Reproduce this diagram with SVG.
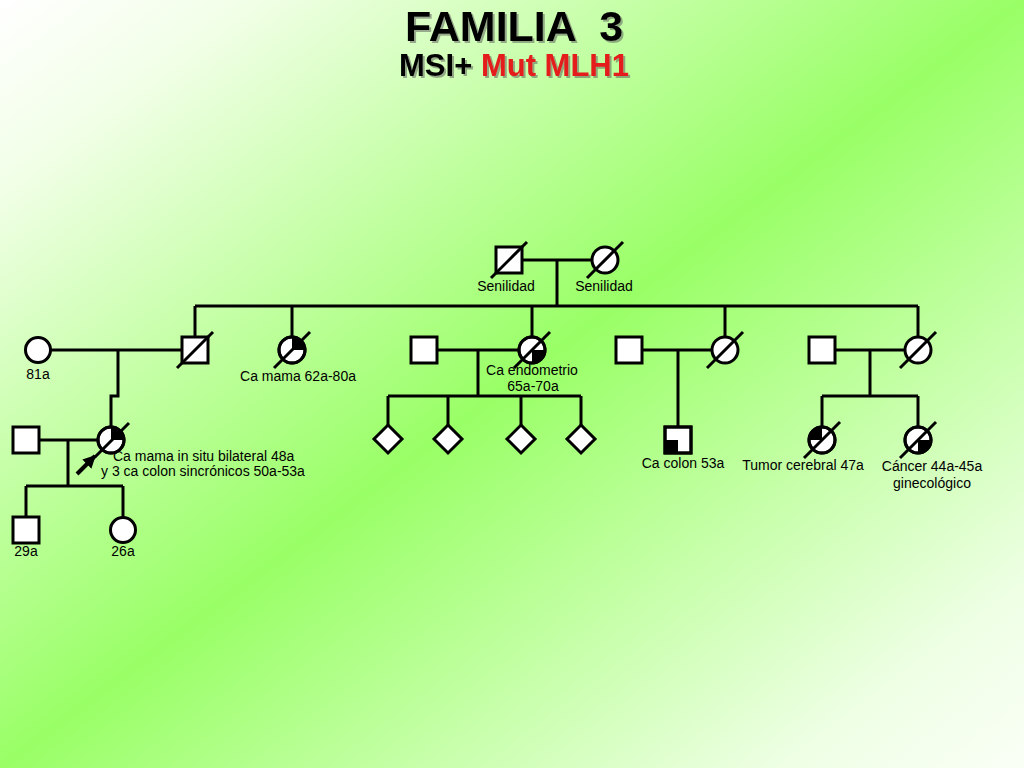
<svg xmlns="http://www.w3.org/2000/svg" width="1024" height="768" viewBox="0 0 1024 768">
<defs>
<linearGradient id="bg" x1="0" y1="0" x2="1" y2="1">
<stop offset="0" stop-color="#ffffff"/>
<stop offset="0.12" stop-color="#f2ffe8"/>
<stop offset="0.5" stop-color="#99ff66"/>
<stop offset="0.88" stop-color="#eeffe4"/>
<stop offset="1" stop-color="#fafff6"/>
</linearGradient>
<filter id="shadow" x="-10%" y="-20%" width="120%" height="150%">
<feDropShadow dx="2" dy="2" stdDeviation="0.6" flood-color="#555" flood-opacity="0.5"/>
</filter>
<marker id="ah" viewBox="0 0 10 10" refX="9" refY="5" markerWidth="3.2" markerHeight="3.2" orient="auto" markerUnits="strokeWidth">
<path d="M0,0 L10,5 L0,10 Z" fill="#000"/>
</marker>
<style>
.ln{stroke:#000;stroke-width:3;fill:none}
.sh{fill:#fff;stroke:#000;stroke-width:3}
.q{fill:#000;stroke:none}
.sl{stroke:#000;stroke-width:3;fill:none}
.lb{font-family:"Liberation Sans",Arial,sans-serif;font-size:14px;fill:#000}
.mid{text-anchor:middle}
.t1{font-family:"Liberation Sans",Arial,sans-serif;font-weight:bold;font-size:43px;text-anchor:middle;white-space:pre}
.t2{font-family:"Liberation Sans",Arial,sans-serif;font-weight:bold;font-size:31px;text-anchor:middle}
</style>
</defs>
<rect x="0" y="0" width="1024" height="768" fill="url(#bg)"/>

<g id="title" filter="url(#shadow)">
<text class="t1" x="514" y="41" fill="#000" xml:space="preserve">FAMILIA  3</text>
<text class="t2" x="514" y="76" fill="#000">MSI+ <tspan fill="#e41b1b">Mut MLH1</tspan></text>
</g>

<g id="connectors">
<path class="ln" d="M522,260 H592"/>
<path class="ln" d="M557,260 V306"/>
<path class="ln" d="M195,306 H918"/>
<path class="ln" d="M195,306 V337"/>
<path class="ln" d="M292,306 V337"/>
<path class="ln" d="M532,306 V337"/>
<path class="ln" d="M725,306 V337"/>
<path class="ln" d="M918,306 V337"/>
<path class="ln" d="M51,350 H182"/>
<path class="ln" d="M118,350 V396 H111 V427"/>
<path class="ln" d="M437,350 H519"/>
<path class="ln" d="M478,350 V396"/>
<path class="ln" d="M388,396 H581"/>
<path class="ln" d="M388,396 V425"/>
<path class="ln" d="M448,396 V425"/>
<path class="ln" d="M521,396 V425"/>
<path class="ln" d="M581,396 V425"/>
<path class="ln" d="M642,350 H712"/>
<path class="ln" d="M678,350 V427"/>
<path class="ln" d="M835,350 H905"/>
<path class="ln" d="M870,350 V396"/>
<path class="ln" d="M822,396 H918"/>
<path class="ln" d="M822,396 V427"/>
<path class="ln" d="M918,396 V427"/>
<path class="ln" d="M39,440 H98"/>
<path class="ln" d="M68,440 V486"/>
<path class="ln" d="M26,486 H123"/>
<path class="ln" d="M26,486 V517"/>
<path class="ln" d="M123,486 V517"/>
</g>

<g id="n-gf">
<rect class="sh" x="496" y="247" width="26" height="26"/>
<line class="sl" x1="491" y1="278" x2="527" y2="242"/>
<text class="lb mid" x="506" y="291">Senilidad</text>
</g>
<g id="n-gm">
<circle class="sh" cx="605" cy="260" r="13"/>
<line class="sl" x1="587" y1="278" x2="623" y2="242"/>
<text class="lb mid" x="604" y="291">Senilidad</text>
</g>

<g id="n-81a">
<circle class="sh" cx="38" cy="350" r="12.5"/>
<text class="lb mid" x="38" y="379">81a</text>
</g>
<g id="n-son1">
<rect class="sh" x="182" y="337" width="26" height="26"/>
<line class="sl" x1="177" y1="368" x2="213" y2="332"/>
</g>
<g id="n-camama">
<circle class="sh" cx="292" cy="350" r="13"/>
<path class="q" d="M292,350 V337 A13,13 0 0 1 305,350 Z"/>
<circle cx="292" cy="350" r="13" fill="none" stroke="#000" stroke-width="3"/>
<line class="sl" x1="274" y1="368" x2="310" y2="332"/>
<text class="lb mid" x="298" y="381">Ca mama 62a-80a</text>
</g>
<g id="n-husb2">
<rect class="sh" x="411" y="337" width="26" height="26"/>
</g>
<g id="n-endo">
<circle class="sh" cx="532" cy="350" r="13"/>
<path class="q" d="M532,350 H545 A13,13 0 0 1 532,363 Z"/>
<circle cx="532" cy="350" r="13" fill="none" stroke="#000" stroke-width="3"/>
<line class="sl" x1="514" y1="368" x2="550" y2="332"/>
<text class="lb mid" x="532" y="375">Ca endometrio</text>
<text class="lb mid" x="533" y="391">65a-70a</text>
</g>
<g id="n-husb3">
<rect class="sh" x="616" y="337" width="26" height="26"/>
</g>
<g id="n-dau3">
<circle class="sh" cx="725" cy="350" r="13"/>
<line class="sl" x1="707" y1="368" x2="743" y2="332"/>
</g>
<g id="n-husb4">
<rect class="sh" x="809" y="337" width="26" height="26"/>
</g>
<g id="n-dau4">
<circle class="sh" cx="918" cy="350" r="13"/>
<line class="sl" x1="900" y1="368" x2="936" y2="332"/>
</g>

<g id="n-d1"><path class="sh" d="M388,425 L402,439 L388,453 L374,439 Z"/></g>
<g id="n-d2"><path class="sh" d="M448,425 L462,439 L448,453 L434,439 Z"/></g>
<g id="n-d3"><path class="sh" d="M521,425 L535,439 L521,453 L507,439 Z"/></g>
<g id="n-d4"><path class="sh" d="M581,425 L595,439 L581,453 L567,439 Z"/></g>

<g id="n-cacolon">
<rect class="sh" x="665" y="427" width="26" height="26"/>
<rect class="q" x="665" y="440" width="13" height="13"/>
<rect x="665" y="427" width="26" height="26" fill="none" stroke="#000" stroke-width="3"/>
<text class="lb mid" x="683" y="468">Ca colon 53a</text>
</g>
<g id="n-tumor">
<circle class="sh" cx="822" cy="440" r="13"/>
<path class="q" d="M822,440 H809 A13,13 0 0 1 822,427 Z"/>
<circle cx="822" cy="440" r="13" fill="none" stroke="#000" stroke-width="3"/>
<line class="sl" x1="804" y1="458" x2="840" y2="422"/>
<text class="lb mid" x="803" y="470">Tumor cerebral 47a</text>
</g>
<g id="n-cancer">
<circle class="sh" cx="918" cy="440" r="13"/>
<path class="q" d="M918,440 H931 A13,13 0 0 1 918,453 Z"/>
<circle cx="918" cy="440" r="13" fill="none" stroke="#000" stroke-width="3"/>
<line class="sl" x1="900" y1="458" x2="936" y2="422"/>
<text class="lb mid" x="932" y="471">Cáncer 44a-45a</text>
<text class="lb mid" x="932" y="488">ginecológico</text>
</g>

<g id="n-husbp">
<rect class="sh" x="13" y="427" width="26" height="26"/>
</g>
<g id="n-proband">
<circle class="sh" cx="111" cy="440" r="13"/>
<path class="q" d="M111,440 V427 A13,13 0 0 1 124,440 Z"/>
<circle cx="111" cy="440" r="13" fill="none" stroke="#000" stroke-width="3"/>
<line class="sl" x1="95" y1="457" x2="129" y2="423"/>
<line x1="77" y1="474" x2="95" y2="456" stroke="#000" stroke-width="4" marker-end="url(#ah)"/>
<text class="lb" x="113" y="461">Ca mama in situ bilateral 48a</text>
<text class="lb" x="101" y="476">y 3 ca colon sincrónicos 50a-53a</text>
</g>
<g id="n-29a">
<rect class="sh" x="13" y="517" width="26" height="26"/>
<text class="lb mid" x="26" y="556">29a</text>
</g>
<g id="n-26a">
<circle class="sh" cx="123" cy="530" r="12.5"/>
<text class="lb mid" x="123" y="556">26a</text>
</g>
</svg>
